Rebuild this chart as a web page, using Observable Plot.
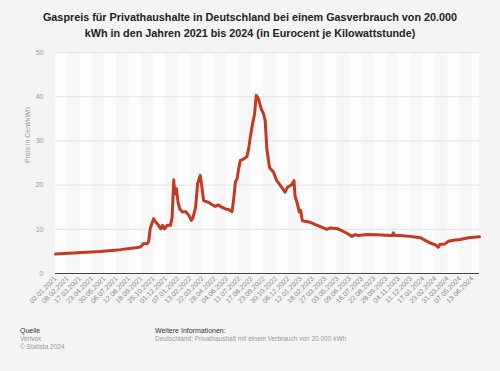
<!DOCTYPE html>
<html>
<head>
<meta charset="utf-8">
<script src="https://cdn.jsdelivr.net/npm/d3@7"></script>
<script src="https://cdn.jsdelivr.net/npm/@observablehq/plot@0.6"></script>
<style>
  html, body { margin: 0; padding: 0; background: #f4f4f4; }
  body { width: 500px; height: 371px; position: relative; overflow: hidden; font-family: "Liberation Sans", Arial, sans-serif; }
  #title { position: absolute; top: 9px; left: 0; width: 500px; text-align: center; font-weight: bold; font-size: 10.8px; line-height: 16px; color: #222; }
  #chart { position: absolute; top: 0; left: 0; }
  .foot { position: absolute; font-size: 6.5px; line-height: 8px; color: #999; }
  .foot b { font-weight: normal; color: #333; font-size: 7px; }
</style>
</head>
<body>
<div id="title">Gaspreis für Privathaushalte in Deutschland bei einem Gasverbrauch von 20.000<br>kWh in den Jahren 2021 bis 2024 (in Eurocent je Kilowattstunde)</div>
<div id="chart"></div>
<div class="foot" style="left:20px; top:327px;"><b>Quelle</b><br>Verivox<br>© Statista 2024</div>
<div class="foot" style="left:155px; top:327px;"><b>Weitere Informationen:</b><br>Deutschland; Privathaushalt mit einem Verbrauch von 20.000 kWh</div>
<script>
const dates = [
  "2021-01-02","2021-05-17","2021-07-17","2021-08-31","2021-09-15","2021-09-25","2021-10-05","2021-10-10",
  "2021-10-15","2021-10-25","2021-11-01","2021-11-09","2021-11-16","2021-11-21","2021-11-27","2021-12-05",
  "2021-12-15","2021-12-20","2021-12-25","2021-12-28","2022-01-02","2022-01-07","2022-01-12","2022-01-20",
  "2022-01-30","2022-02-09","2022-02-16","2022-02-21","2022-03-01","2022-03-07","2022-03-15","2022-03-20",
  "2022-03-25","2022-04-09","2022-04-19","2022-04-29","2022-05-09","2022-05-19","2022-05-30","2022-06-08",
  "2022-06-19","2022-06-24","2022-06-29","2022-07-04","2022-07-09","2022-07-14","2022-07-24","2022-08-03",
  "2022-08-08","2022-08-13","2022-08-20","2022-08-26","2022-08-31","2022-09-07","2022-09-12","2022-09-17",
  "2022-09-22","2022-09-27","2022-10-02","2022-10-10","2022-10-22","2022-11-01","2022-11-16","2022-11-26",
  "2022-12-03","2022-12-16","2022-12-23","2022-12-26","2023-01-02","2023-01-08","2023-01-12","2023-01-17",
  "2023-01-25","2023-02-09","2023-02-24","2023-03-16","2023-04-01","2023-04-11","2023-05-01","2023-05-16",
  "2023-06-01","2023-06-16","2023-06-26","2023-07-06","2023-07-31","2023-08-30","2023-10-09","2023-10-16",
  "2023-10-19","2023-10-22","2023-11-09","2023-12-09","2024-01-08","2024-01-23","2024-02-07","2024-02-22",
  "2024-03-03","2024-03-08","2024-03-23","2024-04-02","2024-04-17","2024-05-08","2024-06-02","2024-06-17",
  "2024-07-05"
];
const prices = [
  4.4, 5.0, 5.4, 5.8, 6.0, 6.8, 6.7, 7.2,
  10.2, 12.4, 11.6, 10.9, 10.1, 10.9, 10.1, 10.9,
  10.9, 12.7, 21.2, 18.0, 19.2, 16.1, 14.6, 13.9,
  14.0, 13.1, 12.0, 12.6, 15.0, 20.3, 22.2, 19.5,
  16.5, 16.1, 15.6, 15.2, 15.5, 15.0, 14.6, 14.5,
  14.0, 16.9, 20.7, 21.4, 23.7, 25.6, 25.9, 26.5,
  28.2, 30.8, 33.9, 36.1, 40.3, 39.5, 38.0, 36.9,
  36.1, 34.6, 28.2, 24.0, 22.9, 21.0, 19.5, 18.4,
  19.5, 20.1, 21.0, 17.6, 15.8, 13.9, 14.3, 12.0,
  11.8, 11.6, 11.1, 10.5, 10.0, 10.3, 10.2, 9.7,
  9.1, 8.4, 8.8, 8.6, 8.8, 8.75, 8.6, 8.6,
  9.2, 8.6, 8.6, 8.4, 8.1, 7.5, 6.9, 6.5,
  5.95, 6.6, 6.7, 7.3, 7.5, 7.7, 8.1, 8.2,
  8.3
];
const tickLabels = [
  "02.01.2021","08.02.2021","17.03.2021","23.04.2021","30.05.2021","06.07.2021","12.08.2021","18.09.2021",
  "25.10.2021","01.12.2021","07.01.2022","13.02.2022","22.03.2022","28.04.2022","04.06.2022","11.07.2022",
  "17.08.2022","23.09.2022","30.10.2022","06.12.2022","12.01.2023","18.02.2023","27.03.2023","03.05.2023",
  "09.06.2023","16.07.2023","22.08.2023","28.09.2023","04.11.2023","11.12.2023","17.01.2024","23.02.2024",
  "31.03.2024","07.05.2024","13.06.2024"
];
const yTicks = [0, 10, 20, 30, 40, 50];
const domainStart = "2021-01-02";
const domainEnd = "2024-07-05";

const parseDMY = s => { const [d, m, y] = s.split("."); return new Date(Date.UTC(+y, +m - 1, +d)); };
const data = dates.map((d, i) => ({date: new Date(d + "T00:00:00Z"), price: prices[i]}));
const tickDates = tickLabels.map(parseDMY);
const xDomain = [new Date(domainStart + "T00:00:00Z"), new Date(domainEnd + "T00:00:00Z")];
const bandEdges = [xDomain[0], ...tickDates.slice(1), xDomain[1]];
const bands = bandEdges.slice(0, -1).map((d, i) => ({x1: d, x2: bandEdges[i + 1], odd: i % 2}));
const fmt = d3.utcFormat("%d.%m.%Y");

const plot = Plot.plot({
  width: 500,
  height: 371,
  marginLeft: 55,
  marginRight: 21,
  marginTop: 52,
  marginBottom: 98,
  style: {background: "transparent", fontFamily: "Liberation Sans, Arial, sans-serif"},
  x: {type: "utc", domain: xDomain},
  y: {domain: [0, 50]},
  marks: [
    Plot.rect(bands, {x1: "x1", x2: "x2", y1: 0, y2: 50, fill: d => d.odd ? "#f7f7f7" : "#fdfdfd"}),
    Plot.ruleY(yTicks.filter(t => t > 0), {stroke: "#e4e4e4", strokeWidth: 1}),
    Plot.axisY({ticks: yTicks, tickSize: 0, tickPadding: 12, fontSize: 7, fill: "#999", label: null}),
    Plot.axisX({ticks: tickDates, tickFormat: fmt, tickSize: 0, tickPadding: 4, tickRotate: -45, fontSize: 7, fill: "#888", label: null}),
    Plot.text(["Preis in Cent/kWh"], {frameAnchor: "left", dx: -28, rotate: -90, fontSize: 7, fill: "#999"}),
    Plot.ruleY([0], {stroke: "#444", strokeWidth: 1}),
    Plot.line(data, {x: "date", y: "price", stroke: "#c23a21", strokeWidth: 3, strokeLinejoin: "round", strokeLinecap: "round"})
  ]
});
document.getElementById("chart").appendChild(plot);
</script>
</body>
</html>
